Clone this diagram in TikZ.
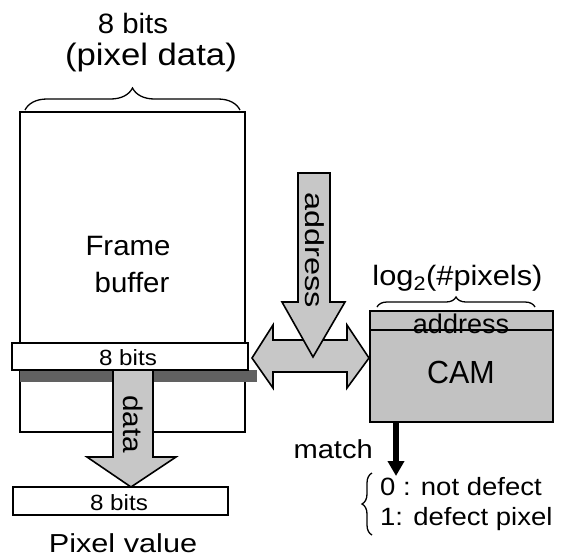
\documentclass[tikz,border=0pt]{standalone}
\usepackage{fontspec}
\usepackage{graphicx}
\setmainfont{Liberation Sans}
\usetikzlibrary{decorations.pathreplacing,arrows.meta,calc}
% horizontally widened text
\newcommand\wtxt[2]{\scalebox{#1}[1]{#2}}
\newcommand\fsz[1]{\fontsize{#1}{#1}\selectfont}
\begin{document}
\begin{tikzpicture}[x=1pt,y=-1pt,
  lbl/.style={inner sep=0pt, anchor=base},
  blockarrow/.style={draw=black, line width=1.6pt, fill=black!22, line join=miter},
  bar/.style={draw=black, line width=2.6pt, fill=white, inner sep=0pt},
  brace/.style={decorate, decoration={brace, amplitude=#1}, line width=1.3pt},
]
\useasboundingbox (0,0) rectangle (568,558);

% frame buffer memory
\node[draw, line width=1.6pt, minimum width=225pt, minimum height=320pt, inner sep=0pt] (fb) at (132.5,272) {};
\node[lbl] (fbtxt1) at (128,255) {\fsz{28}\wtxt{1.05}{Frame}};
\node[lbl] (fbtxt2) at (132,292) {\fsz{28}\wtxt{1.05}{buffer}};

% width label above the frame buffer
\node[lbl] (bits) at (133,33) {\fsz{28}\wtxt{1.05}{8 bits}};
\node[lbl] (pdata) at (151,65) {\fsz{31}\wtxt{1.12}{(pixel data)}};
\draw[brace=22pt] (25,110) -- (240,110);

% selected row and its shadow
\fill[black!62] (20,370) rectangle (257,382);
\node[bar, minimum width=236pt, minimum height=27pt] (row) at (130,356.5) {};
\node[lbl] (rowtxt) at (128,365) {\fsz{22}\wtxt{1.1}{8 bits}};

% data arrow from the row to the output register
\coordinate (dtop) at (133,370);
\coordinate (dtip) at (131,487);
\draw[blockarrow] (dtop -| 113,0) -- (113,457) -- (87,457) -- (dtip) -- (176,457) -- (153,457) -- (dtop -| 153,0) -- cycle;
\node[inner sep=0pt, rotate=-90] (datatxt) at (133,424) {\fsz{27}\wtxt{1.1}{data}};

% output register
\node[bar, line width=2.2pt, minimum width=215pt, minimum height=28pt] (pix) at (120.5,501) {};
\node[lbl] (pixtxt) at (119,510) {\fsz{22}\wtxt{1.1}{8 bits}};
\node[lbl] (pv) at (123,552) {\fsz{26}\wtxt{1.18}{Pixel value}};

% two-way link between frame buffer and CAM
\coordinate (lt) at (252,358);
\coordinate (rt) at (369,358);
\draw[blockarrow] (lt) -- (273,325) -- (273,340) -- (347,340) -- (347,325) -- (rt)
  -- (347,388) -- (347,372) -- (273,372) -- (273,388) -- cycle;

% address input arrow
\coordinate (atop) at (314,173);
\coordinate (atip) at (313,357);
\draw[blockarrow] (298,173) -- (298,302) -- (282,302) -- (atip) -- (345,302) -- (330,302) -- (330,173) -- cycle;
\node[inner sep=0pt, rotate=-90] (addrtxt) at (315,250) {\fsz{26}\wtxt{1.25}{address}};

% CAM block
\node[draw, line width=1.6pt, fill=black!24, minimum width=183pt, minimum height=111pt, inner sep=0pt] (cam) at (461.5,366.5) {};
\node[lbl] (camtxt) at (461,383) {\fsz{32}\wtxt{0.95}{CAM}};
\node[lbl] (addr) at (461,333) {\fsz{27}\wtxt{1.0}{address}};
\draw[line width=1.8pt] (370,330) -- (553,330);
\node[lbl] (logp) at (457.5,285) {\fsz{28}\wtxt{1.1}{log\textsubscript{2}(\#pixels)}};
\draw[brace=10pt] (377,307) -- (535,307);

% match output
\coordinate (mtop) at (396,422);
\coordinate (mtip) at (396,476);
\draw[line width=6pt, -{Triangle[length=15pt, width=16pt]}] (mtop) -- (mtip);
\node[inner sep=0pt, anchor=base east] (match) at (373,458) {\fsz{26}\wtxt{1.12}{match}};
\draw[brace=10pt] (372,535) -- (372,473);
\node[inner sep=0pt, anchor=base west] (n0) at (380,495) {\fsz{25}\wtxt{1.1}{0 : not defect}};
\node[inner sep=0pt, anchor=base west] (n1) at (380,525) {\fsz{25}\wtxt{1.1}{1: defect pixel}};
\end{tikzpicture}
\end{document}
